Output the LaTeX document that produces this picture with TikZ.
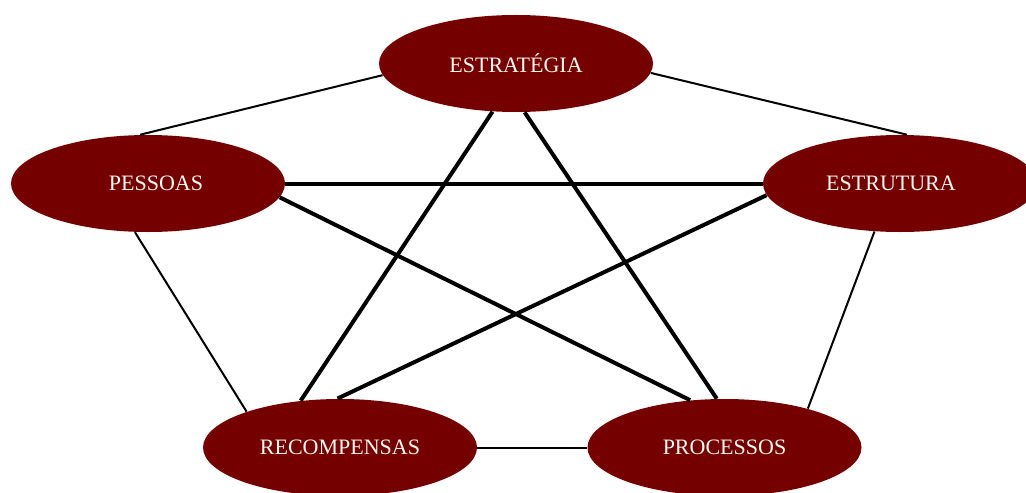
\documentclass[tikz,border=0pt]{standalone}
\usepackage{fontspec}
\setmainfont{Liberation Serif}
\usetikzlibrary{shapes.geometric}
\definecolor{factorred}{RGB}{117,0,0}
\definecolor{factortext}{RGB}{250,246,242}
\tikzset
{
	factornode/.style = {ellipse, fill=factorred, text=factortext, align=center, minimum width=137pt, minimum height=48.5pt, inner sep=0pt, font=\fontsize{11}{13}\selectfont},
	thinlink/.style = {draw=black, line width=1pt},
	thicklink/.style = {draw=black, line width=2pt}
}

\begin{document}
\begin{tikzpicture}[x=0.5pt, y=-0.5pt]
\useasboundingbox (0,0) rectangle (1026,492);
% the five factors
\node[factornode] (estrategia) at (516,63.5) {ESTRATÉGIA};
\node[factornode] (pessoas) at (148,183.5) {\hspace*{8pt}PESSOAS};
\node[factornode] (estrutura) at (900,183.5) {ESTRUTURA\hspace*{9pt}};
\node[factornode] (recompensas) at (340,447.5) {RECOMPENSAS};
\node[factornode] (processos) at (724.5,447.5) {PROCESSOS};
% outer ring
\draw[thinlink] (estrategia.185) -- (pessoas.99);
\draw[thinlink] (estrategia.356) -- (estrutura.82);
\draw[thinlink] (pessoas.255) -- (recompensas.159.5);
\draw[thinlink] (estrutura.242) -- (processos.25);
\draw[thinlink] (recompensas.0) -- (processos.180);
% inner star
\draw[thicklink] (pessoas.0) -- (estrutura.180);
\draw[thicklink] (estrategia.244) -- (recompensas.130);
\draw[thicklink] (estrategia.280) -- (processos.99);
\draw[thicklink] (pessoas.354) -- (processos.126);
\draw[thicklink] (estrutura.185) -- (recompensas.93.5);
\end{tikzpicture}
\end{document}
